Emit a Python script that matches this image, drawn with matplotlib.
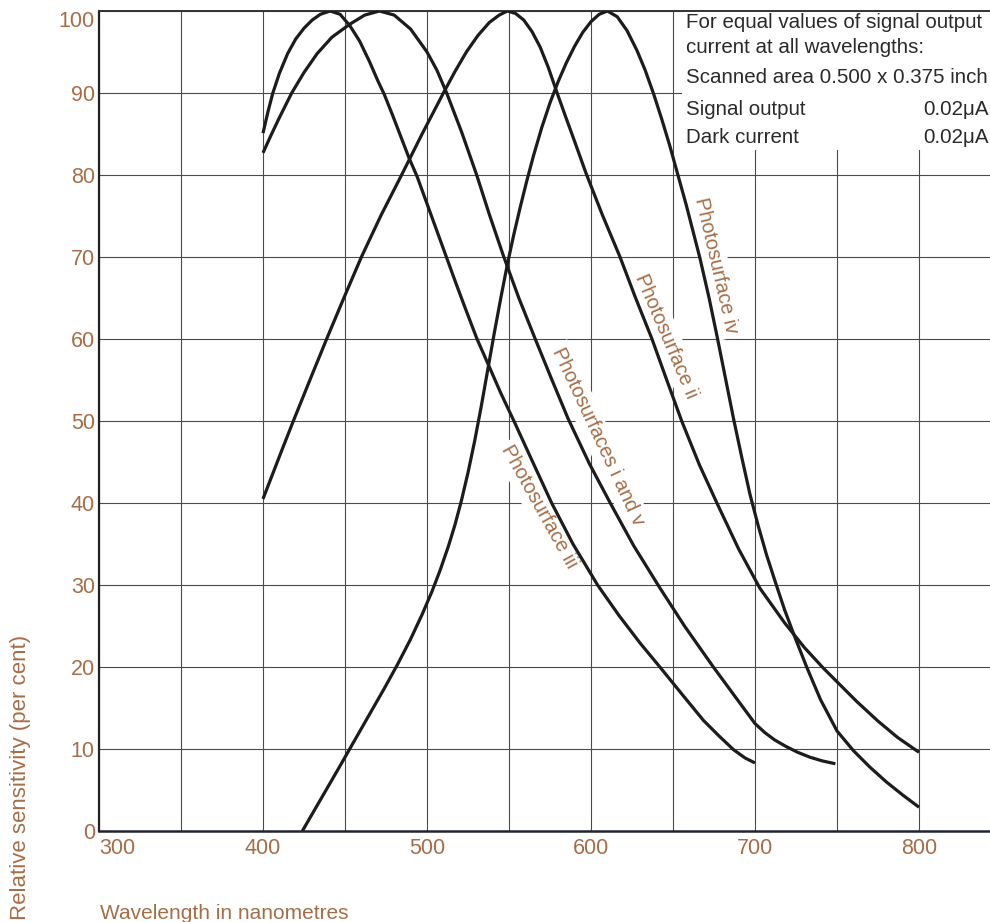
import matplotlib.pyplot as plt
from matplotlib.patches import Rectangle

# values: wavelength (nm) vs relative sensitivity (%)
wl_iii = [400, 403, 406, 410, 415, 420, 425, 430, 435, 441, 447, 453, 459, 465, 470, 474,
          479, 484, 489, 494, 500, 506, 512, 518, 524, 530.5, 538, 545, 553, 564, 576, 589,
          604, 617, 630, 642, 655, 668.5, 678, 687, 694, 700]
rs_iii = [85.1, 87.7, 90, 92.4, 94.8, 96.6, 97.9, 98.9, 99.6, 100, 99.6, 98.2, 96.3, 93.8, 91.5, 89.8,
          87.3, 84.7, 82.1, 79.8, 76.5, 73.2, 69.9, 66.6, 63.4, 60, 56.6, 53.4, 50, 45.2, 40, 35,
          30, 26.3, 22.9, 20, 16.8, 13.5, 11.6, 9.9, 8.9, 8.3]

wl_i_v = [400, 405, 410, 417.5, 425, 433, 442, 453, 462, 471, 480, 490, 500, 506, 512, 521,
          530.3, 538, 546.5, 556, 566, 576, 586, 599, 612, 626, 641.5, 657, 674.6, 686, 693,
          700, 706, 712, 719, 726, 733.5, 741, 749]
rs_i_v = [82.7, 84.9, 87, 90, 92.5, 94.8, 96.8, 98.4, 99.5, 100, 99.5, 97.8, 95, 92.8, 90, 85.3,
          80, 75.2, 70.2, 65, 60, 55.1, 50.3, 44.8, 39.9, 34.8, 29.8, 25, 20, 16.9, 15,
          13.1, 12, 11.1, 10.3, 9.6, 9, 8.55, 8.2]

wl_ii = [400, 406, 412, 418.5, 429, 439, 449.5, 460, 472, 484.5, 497, 510, 517, 524, 531, 538,
         544, 549, 554, 559, 564, 569, 574, 579, 584, 590, 597, 607, 617.7, 627, 637, 646,
         655.3, 666, 677, 690, 703, 718, 730, 741.5, 750, 762, 775, 787, 800]
rs_ii = [40.5, 43.6, 46.7, 50, 55.2, 60.1, 65.1, 70, 75.1, 80, 85, 90, 92.6, 95, 97, 98.6,
         99.5, 100, 99.7, 98.9, 97.5, 95.6, 93.1, 90.2, 87.4, 84.1, 80.2, 75.1, 70, 65.1, 60.1, 55.1,
         50, 44.7, 39.9, 34.4, 29.6, 25.4, 22.4, 19.9, 18.2, 15.8, 13.4, 11.4, 9.6]

wl_iv = [424, 435, 446, 456, 466, 474, 482, 490, 497, 503, 508, 513, 517, 521, 525, 529,
         533, 537, 541, 545, 549, 553, 557, 561, 565, 570, 575, 580, 585, 590, 595, 600,
         605, 610, 616, 622, 628, 633, 638, 643, 648, 653, 658, 662, 666.5, 672, 677, 682,
         687, 692, 697, 702, 707, 713, 718, 724, 731.5, 740, 750, 760, 770, 780, 790, 800]
rs_iv = [0, 3.8, 7.6, 11.1, 14.6, 17.4, 20.3, 23.4, 26.4, 29.2, 31.8, 34.7, 37.3, 40.3, 43.7, 47.5,
         51.7, 56.2, 60.7, 65, 69.1, 72.8, 76.2, 79.4, 82.4, 85.8, 88.8, 91.4, 93.7, 95.7, 97.4, 98.7,
         99.6, 100, 99.3, 97.6, 95.2, 92.8, 90, 86.9, 83.6, 80, 76.4, 73.3, 69.8, 65, 60.2, 55.2,
         50.2, 45.5, 41, 37.2, 33.7, 30, 27, 23.8, 20, 16, 12.2, 9.8, 7.8, 6, 4.4, 2.9]

x_ticks = [300, 400, 500, 600, 700, 800]
x_minor = [350, 450, 550, 650, 750, 800]
y_ticks = [0, 10, 20, 30, 40, 50, 60, 70, 80, 90, 100]

BROWN = '#a66e48'
INK = '#1c1c1c'

plt.rcParams['font.family'] = ['Liberation Sans', 'DejaVu Sans']

fig = plt.figure(figsize=(9.9, 9.22), dpi=100)
ax = fig.add_axes([0.1, 91 / 922, 0.9, 820 / 922])

for wl, rs in [(wl_iii, rs_iii), (wl_i_v, rs_i_v), (wl_ii, rs_ii), (wl_iv, rs_iv)]:
    ax.plot(wl, rs, color=INK, lw=2.3, zorder=3, solid_capstyle='butt', solid_joinstyle='round')

ax.set_xlim(300, 300 + 891 / 1.64)
ax.set_ylim(0, 100)
ax.set_xticks(x_ticks)
ax.set_xticklabels([str(t) for t in x_ticks])
ax.set_xticks(x_minor, minor=True)
ax.set_yticks(y_ticks)
ax.set_yticklabels([str(t) for t in y_ticks])
ax.set_axisbelow(True)
ax.grid(which='both', color='#4a4a4a', lw=0.8)
ax.tick_params(which='both', length=0, labelsize=15.5, labelcolor=BROWN)
ax.tick_params(axis='x', pad=5)
ax.tick_params(axis='y', pad=3)
ax.get_xticklabels()[0].set_ha('left')
ax.get_yticklabels()[-1].set_va('top')

ax.spines['right'].set_visible(False)
ax.spines['left'].set_color('#222222')
ax.spines['left'].set_linewidth(1.6)
ax.spines['bottom'].set_color('#1f2430')
ax.spines['bottom'].set_linewidth(1.8)
ax.spines['top'].set_color('#333333')
ax.spines['top'].set_linewidth(1.4)

# curve names
lab = dict(color=BROWN, fontsize=14.5, ha='center', va='center', rotation_mode='anchor',
           zorder=2.5, bbox=dict(boxstyle='square,pad=0.2', fc='white', ec='none'))
ax.text(676, 68.9, 'Photosurface iv', rotation=-77, **lab)
ax.text(646, 60.3, 'Photosurface ii', rotation=-67, **lab)
ax.text(604, 48.1, 'Photosurfaces i and v', rotation=-65, **lab)
ax.text(568.3, 39.5, 'Photosurface iii', rotation=-61, **lab)

# note in the top right corner
ax.add_patch(Rectangle((655.5, 83), 200, 17, fc='white', ec='none', zorder=2))
note = dict(color='#2a2a2a', fontsize=14.8, va='baseline', zorder=4)
ax.text(657.9, 97.9, 'For equal values of signal output', **note)
ax.text(657.9, 94.9, 'current at all wavelengths:', **note)
ax.text(657.9, 91.2, 'Scanned area 0.500 x 0.375 inch', **note)
ax.text(657.9, 87.3, 'Signal output', **note)
ax.text(802.4, 87.3, '0.02\u03bcA', **note)
ax.text(657.9, 83.9, 'Dark current', **note)
ax.text(802.4, 83.9, '0.02\u03bcA', **note)

fig.text(100 / 990, 3 / 922, 'Wavelength in nanometres', color=BROWN, fontsize=15,
         ha='left', va='baseline')
fig.text(21 / 990, 2 / 922, 'Relative sensitivity (per cent)', color=BROWN, fontsize=16,
         rotation=90, ha='center', va='bottom')

fig.savefig('out.png', dpi=100)
